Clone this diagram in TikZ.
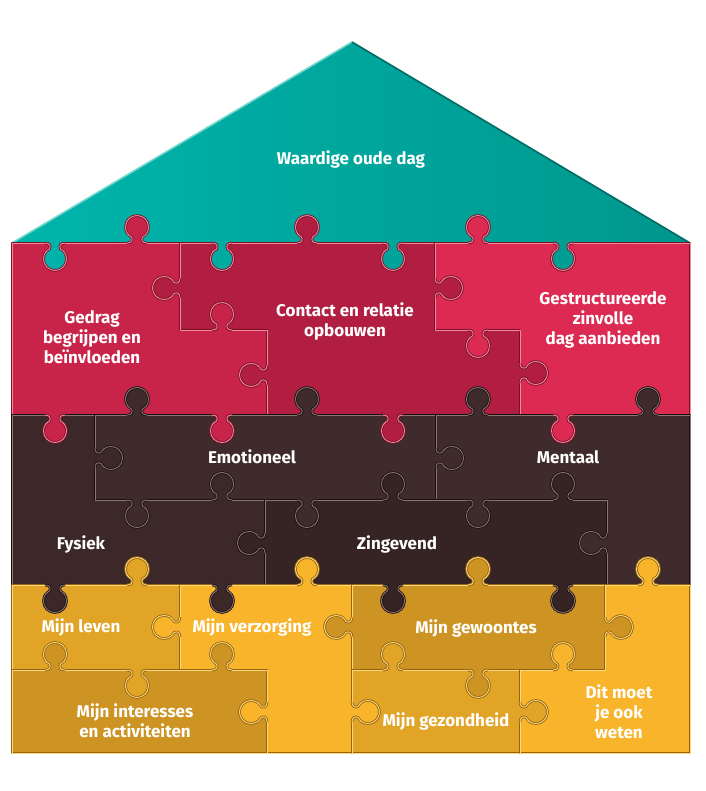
\documentclass[tikz,border=0pt]{standalone}
\usepackage{fontspec}
\setmainfont{Fira Sans}
\usepackage{tikz}

\definecolor{tealL}{HTML}{00B5AB}
\definecolor{tealR}{HTML}{00978D}
\definecolor{tdk}{HTML}{006A63}
\definecolor{tlt}{HTML}{6FD6CE}
\definecolor{redA}{HTML}{C8244A}
\definecolor{redB}{HTML}{B11E41}
\definecolor{redC}{HTML}{DC2A52}
\definecolor{rdk}{HTML}{7A0F2C}
\definecolor{rlt}{HTML}{F28A98}
\definecolor{brnA}{HTML}{3C2828}
\definecolor{brnB}{HTML}{3F2B2B}
\definecolor{brnC}{HTML}{362323}
\definecolor{bdk}{HTML}{1A0F0F}
\definecolor{blt}{HTML}{8A7474}
\definecolor{ylwA}{HTML}{E1A427}
\definecolor{ylwB}{HTML}{F8B42B}
\definecolor{ylwC}{HTML}{CD9423}
\definecolor{ydk}{HTML}{94650F}
\definecolor{ylt}{HTML}{FFD77E}

% one puzzle piece: fill, rim colours, outline
\newcommand{\piece}[3]{%
  \fill[#1] #3;
  \draw[#2dk,line width=2.6pt,line join=round] #3;
  \draw[#2lt,line width=.9pt,line join=round] #3;}

% a knob pointing down (0), up (180), right (90) or left (-90)
\newcommand{\knob}[4]{%
  \begin{scope}[shift={#1},rotate=#2]
    \fill[#3] (-10,-2.5) -- (-10,0) .. controls (-5,0) and (-4,3) .. (-5.5,6)
      .. controls (-8,7.5) and (-11.5,10) .. (-11.5,16)
      .. controls (-11.5,22.5) and (-6.3,27.5) .. (0,27.5)
      .. controls (6.3,27.5) and (11.5,22.5) .. (11.5,16)
      .. controls (11.5,10) and (8,7.5) .. (5.5,6)
      .. controls (4,3) and (5,0) .. (10,0) -- (10,-2.5) -- cycle;
    \foreach \c/\w in {#4dk/2.6pt,#4lt/.9pt}
      \draw[\c,line width=\w] (-10,0) .. controls (-5,0) and (-4,3) .. (-5.5,6)
        .. controls (-8,7.5) and (-11.5,10) .. (-11.5,16)
        .. controls (-11.5,22.5) and (-6.3,27.5) .. (0,27.5)
        .. controls (6.3,27.5) and (11.5,22.5) .. (11.5,16)
        .. controls (11.5,10) and (8,7.5) .. (5.5,6)
        .. controls (4,3) and (5,0) .. (10,0);
  \end{scope}}

\begin{document}
\begin{tikzpicture}[x=1pt,y=-1pt,
    lbl/.style={text=white,align=center,inner sep=0pt,
      font=\bfseries\fontsize{17}{20}\selectfont}]
  \useasboundingbox (0,0) rectangle (705,791);

  % roof
  \shade[left color=tealL,right color=tealR] (12,243) -- (352,42) -- (690,243) -- cycle;
  \draw[tlt,line width=1.6pt] (12,243) -- (352,42);
  \draw[tdk,line width=1.6pt] (352,42) -- (690,243);

  % red row
  \piece{redA}{r}{(12,243) -- (180,243) -- (180,330) -- (267,330) -- (267,415) -- (12,415) -- cycle}
  \piece{redB}{r}{(180,243) -- (435,243) -- (435,330) -- (520,330) -- (520,415) -- (267,415) -- (267,330) -- (180,330) -- cycle}
  \piece{redC}{r}{(435,243) -- (690,243) -- (690,415) -- (520,415) -- (520,330) -- (435,330) -- cycle}

  % brown row
  \piece{brnA}{b}{(12,415) -- (95,415) -- (95,500) -- (265,500) -- (265,585) -- (12,585) -- cycle}
  \piece{brnB}{b}{(95,415) -- (436,415) -- (436,500) -- (95,500) -- cycle}
  \piece{brnB}{b}{(436,415) -- (690,415) -- (690,585) -- (607,585) -- (607,500) -- (436,500) -- cycle}
  \piece{brnC}{b}{(265,500) -- (607,500) -- (607,585) -- (265,585) -- cycle}

  % yellow row
  \piece{ylwA}{y}{(12,585) -- (180,585) -- (180,670) -- (12,670) -- cycle}
  \piece{ylwB}{y}{(180,585) -- (352,585) -- (352,753) -- (267,753) -- (267,670) -- (180,670) -- cycle}
  \piece{ylwC}{y}{(12,670) -- (267,670) -- (267,753) -- (12,753) -- cycle}
  \piece{ylwC}{y}{(352,585) -- (605,585) -- (605,670) -- (352,670) -- cycle}
  \piece{ylwA}{y}{(352,670) -- (520,670) -- (520,753) -- (352,753) -- cycle}
  \piece{ylwB}{y}{(605,585) -- (690,585) -- (690,753) -- (520,753) -- (520,670) -- (605,670) -- cycle}

  % knobs
  \knob{(55,243)}{0}{tealL!92!tealR}{r}
  \knob{(137,243)}{180}{redA}{r}
  \knob{(222,243)}{0}{tealL!68!tealR}{r}
  \knob{(307,243)}{180}{redB}{r}
  \knob{(393,243)}{0}{tealL!45!tealR}{r}
  \knob{(478,243)}{180}{redC}{r}
  \knob{(563,243)}{0}{tealL!20!tealR}{r}

  \knob{(180,288)}{-90}{redB}{r}
  \knob{(222,330)}{180}{redA}{r}
  \knob{(267,375)}{-90}{redB}{r}
  \knob{(435,288)}{90}{redB}{r}
  \knob{(478,330)}{0}{redC}{r}
  \knob{(520,373)}{90}{redB}{r}

  \knob{(55,415)}{0}{redA}{r}
  \knob{(137,415)}{180}{brnB}{b}
  \knob{(222,415)}{0}{redA}{r}
  \knob{(307,415)}{180}{brnB}{b}
  \knob{(393,415)}{0}{redB}{r}
  \knob{(478,415)}{180}{brnB}{b}
  \knob{(563,415)}{0}{redC}{r}
  \knob{(648,415)}{180}{brnB}{b}

  \knob{(95,458)}{90}{brnA}{b}
  \knob{(137,500)}{0}{brnB}{b}
  \knob{(222,500)}{180}{brnA}{b}
  \knob{(265,543)}{-90}{brnC}{b}
  \knob{(307,500)}{0}{brnB}{b}
  \knob{(393,500)}{180}{brnC}{b}
  \knob{(436,458)}{90}{brnB}{b}
  \knob{(478,500)}{0}{brnB}{b}
  \knob{(563,500)}{180}{brnC}{b}
  \knob{(607,543)}{-90}{brnB}{b}

  \knob{(55,585)}{0}{brnA}{b}
  \knob{(137,585)}{180}{ylwA}{y}
  \knob{(222,585)}{0}{brnA}{b}
  \knob{(307,585)}{180}{ylwB}{y}
  \knob{(393,585)}{0}{brnC}{b}
  \knob{(478,585)}{180}{ylwC}{y}
  \knob{(563,585)}{0}{brnC}{b}
  \knob{(648,585)}{180}{ylwB}{y}

  \knob{(180,627)}{-90}{ylwB}{y}
  \knob{(55,670)}{180}{ylwC}{y}
  \knob{(137,670)}{0}{ylwA}{y}
  \knob{(222,670)}{180}{ylwC}{y}
  \knob{(267,712)}{-90}{ylwB}{y}
  \knob{(352,627)}{-90}{ylwC}{y}
  \knob{(352,712)}{90}{ylwB}{y}
  \knob{(393,670)}{180}{ylwA}{y}
  \knob{(478,670)}{0}{ylwC}{y}
  \knob{(563,670)}{180}{ylwB}{y}
  \knob{(605,627)}{90}{ylwC}{y}
  \knob{(520,712)}{90}{ylwA}{y}

  % labels
  \node[lbl] (oudedag) at (351,159) {Waardige oude dag};
  \node[lbl] (gedrag) at (92,337) {Gedrag\\begrijpen en\\beïnvloeden};
  \node[lbl] (contact) at (345,321) {Contact en relatie\\opbouwen};
  \node[lbl] (zinvol) at (603,320) {Gestructureerde\\zinvolle\\dag aanbieden};
  \node[lbl] (emotioneel) at (252,457) {Emotioneel};
  \node[lbl] (mentaal) at (568,457) {Mentaal};
  \node[lbl] (fysiek) at (81,544) {Fysiek};
  \node[lbl] (zingevend) at (397,544) {Zingevend};
  \node[lbl] (leven) at (81,627) {Mijn leven};
  \node[lbl] (verzorging) at (252,627) {Mijn verzorging};
  \node[lbl] (interesses) at (135,721) {Mijn interesses\\en activiteiten};
  \node[lbl] (gewoontes) at (476,628) {Mijn gewoontes};
  \node[lbl] (gezondheid) at (446,721) {Mijn gezondheid};
  \node[lbl] (weten) at (619,712) {Dit moet\\je ook\\weten};
\end{tikzpicture}
\end{document}
